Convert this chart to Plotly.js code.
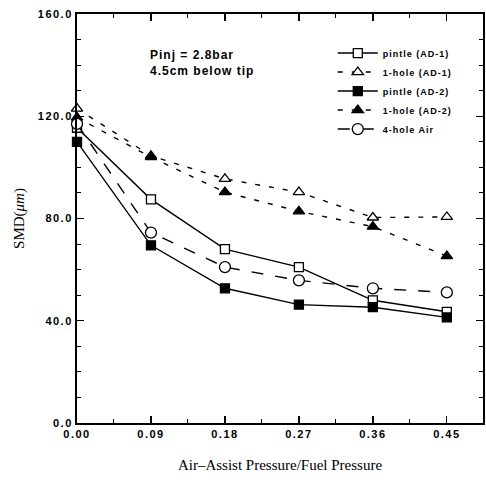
<!DOCTYPE html>
<html>
<head>
<meta charset="utf-8">
<script src="https://cdn.plot.ly/plotly-3.0.1.min.js"></script>
<style>
html,body{margin:0;padding:0;background:#fff;}
#chart{width:486px;height:480px;}
.xtick text,.ytick text{letter-spacing:1.5px;}
.legendtext{letter-spacing:1px;}
.annotation-text{letter-spacing:1px;}
</style>
</head>
<body>
<div id="chart"></div>
<script>
const xVals = [0.00, 0.09, 0.18, 0.27, 0.36, 0.45];
const xTickText = ["0.00", "0.09", "0.18", "0.27", "0.36", "0.45"];
const yTickVals = [0, 40, 80, 120, 160];
const yTickText = ["0.0", "40.0", "80.0", "120.0", "160.0"];

const seriesNames = ["pintle (AD-1)", "1-hole (AD-1)", "pintle (AD-2)", "1-hole (AD-2)", "4-hole Air"];
const pintleAD1 = [115.5, 87.5, 68.0, 61.0, 48.0, 43.5];
const hole1AD1 = [123.0, 104.5, 95.5, 90.3, 80.4, 80.6];
const pintleAD2 = [110.0, 69.5, 52.7, 46.3, 45.3, 41.3];
const hole1AD2 = [119.5, 104.0, 90.3, 82.8, 76.8, 65.3];
const hole4Air = [117.0, 74.5, 61.0, 55.8, 52.7, 51.1];

const mk = (name, y, symbol, filled, dash, size) => ({
  x: xVals, y: y, name: name, type: 'scatter', mode: 'lines+markers',
  legendgroup: name,
  line: {color: '#000', width: 1.4, dash: dash},
  marker: {symbol: symbol, size: size, color: filled ? '#000' : '#fff',
           line: {color: '#000', width: 1.3}},
  cliponaxis: false
});

const traces = [
  mk(seriesNames[0], pintleAD1, 'square', false, 'solid', 9),
  mk(seriesNames[1], hole1AD1, 'triangle-up', false, '5px,9px', 10),
  mk(seriesNames[2], pintleAD2, 'square', true, 'solid', 9),
  mk(seriesNames[3], hole1AD2, 'triangle-up', true, '5px,9px', 10),
  mk(seriesNames[4], hole4Air, 'circle', false, '12px,12px', 11)
];

const tickFont = {family: 'Liberation Sans, Arial, sans-serif', size: 11, color: '#000', weight: 'bold'};

const layout = {
  width: 486, height: 480,
  margin: {l: 77, r: 3, t: 14, b: 57},
  paper_bgcolor: '#fff', plot_bgcolor: '#fff',
  showlegend: true,
  legend: {
    x: 0.63, y: 0.94, xanchor: 'left', yanchor: 'top',
    bgcolor: 'rgba(0,0,0,0)', borderwidth: 0,
    font: {family: 'Liberation Sans, Arial, sans-serif', size: 9, color: '#000', weight: 'bold'},
    tracegroupgap: 0, itemwidth: 40
  },
  xaxis: {
    range: [0, 0.494], tickvals: xVals, ticktext: xTickText,
    ticks: 'inside', ticklen: 7, tickwidth: 1.3, tickcolor: '#000',
    showline: true, linecolor: '#000', linewidth: 2, mirror: 'ticks',
    showgrid: false, zeroline: false, tickfont: tickFont,
    minor: {dtick: 0.045, tick0: 0, ticks: 'inside', ticklen: 4, tickwidth: 1, tickcolor: '#000'},
    title: {text: 'Air\u2013Assist Pressure/Fuel Pressure', standoff: 20,
            font: {family: 'Liberation Serif, Times New Roman, serif', size: 15, color: '#000'}}
  },
  yaxis: {
    range: [0, 160], tickvals: yTickVals, ticktext: yTickText,
    ticks: 'inside', ticklen: 7, tickwidth: 1.3, tickcolor: '#000',
    showline: true, linecolor: '#000', linewidth: 2, mirror: 'ticks',
    showgrid: false, zeroline: false, tickfont: tickFont,
    minor: {dtick: 10, tick0: 0, ticks: 'inside', ticklen: 4, tickwidth: 1, tickcolor: '#000'},
    title: {text: 'SMD(<i>\u03bcm</i>)', standoff: 10,
            font: {family: 'Liberation Serif, Times New Roman, serif', size: 15, color: '#000'}}
  },
  annotations: [
    {xref: 'paper', yref: 'paper', x: 0.175, y: 0.9, xanchor: 'left', yanchor: 'middle', showarrow: false,
     text: 'Pinj = 2.8bar', font: {family: 'Liberation Sans, Arial, sans-serif', size: 12, color: '#000', weight: 'bold'}},
    {xref: 'paper', yref: 'paper', x: 0.175, y: 0.86, xanchor: 'left', yanchor: 'middle', showarrow: false,
     text: '4.5cm below tip', font: {family: 'Liberation Sans, Arial, sans-serif', size: 12, color: '#000', weight: 'bold'}}
  ]
};

Plotly.newPlot('chart', traces, layout, {displayModeBar: false, staticPlot: true});
</script>
</body>
</html>
